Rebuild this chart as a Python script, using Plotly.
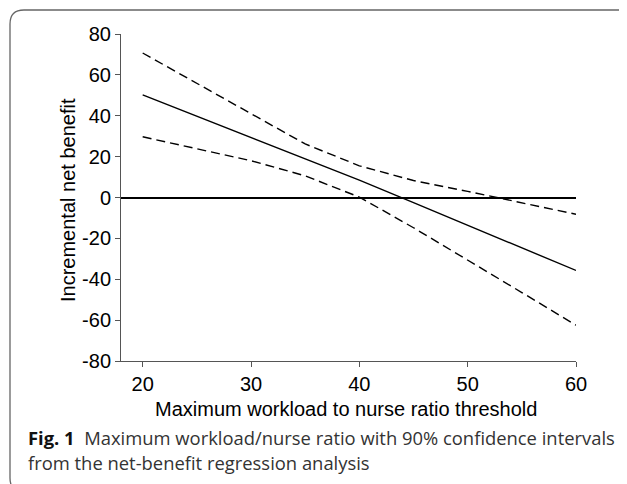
import plotly.graph_objects as go

# Data
threshold = [20, 25, 30, 35, 40, 45, 50, 55, 60]
inb_mean = [50.2, 39.8, 29.5, 19.0, 8.5, -2.5, -13.5, -24.6, -35.7]
inb_upper = [70.7, 55.8, 41.0, 26.2, 15.5, 8.3, 3.0, -2.6, -8.2]
inb_lower = [29.7, 23.9, 18.0, 10.6, 0.2, -14.8, -30.5, -46.5, -62.5]
y_ticks = [-80, -60, -40, -20, 0, 20, 40, 60, 80]
y_ticktext = ["-80", "-60", "-40", "-20", "0", "20", "40", "60", "80"]
x_ticks = [20, 30, 40, 50, 60]

# page offset (body margin) so positions below are in screenshot pixels
OX, OY = 8, 8
W, H = 619, 476
# plot area in screenshot pixels
PX0, PX1, PY0, PY1 = 121, 576, 34, 361
L, R, T, B = PX0 - OX, (OX + W) - PX1, PY0 - OY, (OY + H) - PY1
pw, ph = PX1 - PX0, PY1 - PY0

def px(x):
    return (x - PX0) / pw

def py(y):
    return (PY1 - y) / ph

fig = go.Figure()
dash_line = dict(color="black", width=1.4, dash="9px,5px")
fig.add_trace(go.Scatter(x=threshold, y=inb_upper, mode="lines", line=dash_line))
fig.add_trace(go.Scatter(x=threshold, y=inb_mean, mode="lines",
                         line=dict(color="black", width=1.4)))
fig.add_trace(go.Scatter(x=threshold, y=inb_lower, mode="lines", line=dash_line))

tick_font = dict(family="Liberation Sans, Arial, sans-serif", size=20, color="black")

fig.update_layout(
    width=W, height=H, autosize=False,
    margin=dict(l=L, r=R, t=T, b=B, pad=0),
    paper_bgcolor="white", plot_bgcolor="white",
    showlegend=False,
    xaxis=dict(range=[18, 60], tickvals=x_ticks, ticks="outside", ticklen=5,
               tickcolor="#555", showline=True, linecolor="#555", linewidth=1,
               showgrid=False, zeroline=False, tickfont=tick_font, automargin=False),
    yaxis=dict(range=[-80, 80], tickvals=y_ticks, ticktext=y_ticktext,
               ticks="outside", ticklen=5,
               tickcolor="#555", showline=True, linecolor="#555", linewidth=1,
               showgrid=False, zeroline=True, zerolinecolor="black", zerolinewidth=1.5,
               tickfont=tick_font, automargin=False),
)

fig.add_annotation(text="Incremental net benefit", xref="paper", yref="paper",
                   x=px(68), y=py(200), textangle=-90, showarrow=False,
                   xanchor="center", yanchor="middle", font=tick_font)
fig.add_annotation(text="Maximum workload to nurse ratio threshold", xref="paper", yref="paper",
                   x=px(346), y=py(409), showarrow=False,
                   xanchor="center", yanchor="middle", font=tick_font)

cap_font = dict(family="Open Sans, Noto Sans, sans-serif", size=18.4, color="#333")
fig.add_annotation(text="<b style='color:#111'>Fig. 1</b>  Maximum workload/nurse ratio with 90% confidence intervals",
                   xref="paper", yref="paper", x=px(26), y=py(437), showarrow=False,
                   xanchor="left", yanchor="middle", font=cap_font)
fig.add_annotation(text="from the net-benefit regression analysis",
                   xref="paper", yref="paper", x=px(26), y=py(462), showarrow=False,
                   xanchor="left", yanchor="middle", font=cap_font)

# rounded frame around the figure (screenshot pixels)
x0, x1 = px(10), px(637)
y0, y1 = py(10), py(492)
rx, ry = 14 / pw, 14 / ph
path = (f"M {x0},{y1 + ry} L {x0},{y0 - ry} Q {x0},{y0} {x0 + rx},{y0} "
        f"L {x1 - rx},{y0} Q {x1},{y0} {x1},{y0 - ry} L {x1},{y1 + ry} "
        f"Q {x1},{y1} {x1 - rx},{y1} L {x0 + rx},{y1} Q {x0},{y1} {x0},{y1 + ry} Z")
fig.add_shape(type="path", path=path, xref="paper", yref="paper",
              line=dict(color="#666", width=1.3), fillcolor="rgba(0,0,0,0)", layer="below")

fig.write_html("out.html")
